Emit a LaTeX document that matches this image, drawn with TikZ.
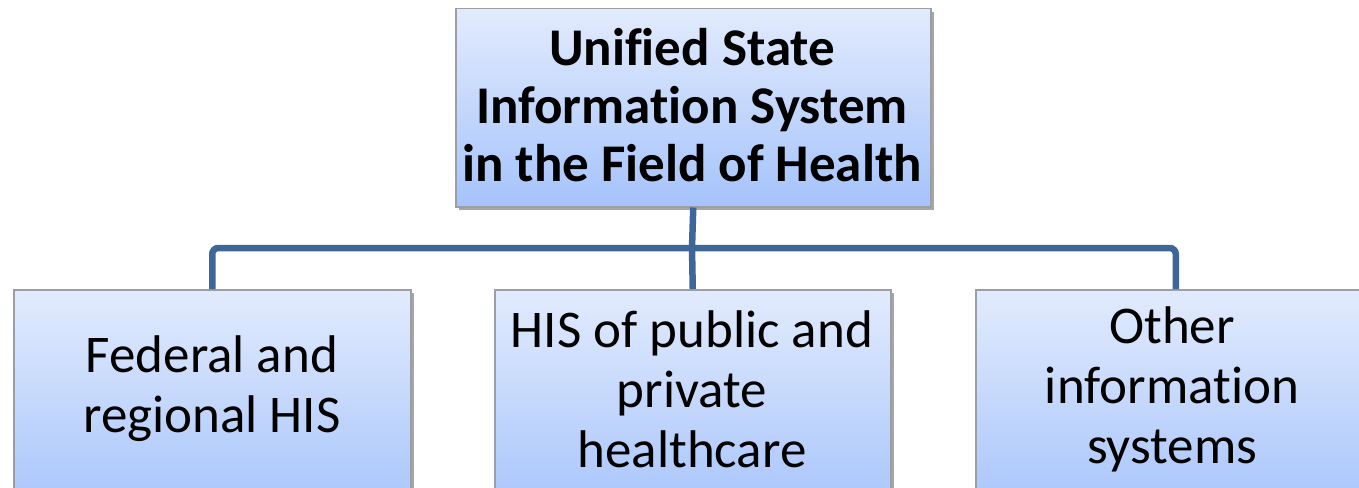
\documentclass[tikz,border=0pt]{standalone}
\usepackage{fontspec}
\setmainfont{Carlito}[Ligatures={NoCommon}]
\usetikzlibrary{shadows}
\definecolor{boxtop}{HTML}{E2EBFD}
\definecolor{boxbot}{HTML}{A5C3FB}
\definecolor{boxline}{HTML}{9A9EA6}
\definecolor{conn}{HTML}{3F6698}
\begin{document}
\begin{tikzpicture}[x=1pt,y=-1pt,
  box/.style={draw=boxline, line width=1.5pt, top color=boxtop, bottom color=boxbot,
    inner sep=0pt, anchor=north west,
    drop shadow={shadow xshift=3pt, shadow yshift=-3pt, fill=black, opacity=0.35}},
  label/.style={align=center, inner sep=0pt, font=\fontsize{53}{60}\selectfont},
  connector/.style={draw=conn, line width=6.5pt, rounded corners=6pt}]
\useasboundingbox (0,0) rectangle (1359,487);
\node[box, minimum width=475pt, minimum height=198pt] (top) at (455,8) {};
\begin{scope}
\clip (0,0) rectangle (1359,487);
\node[box, minimum width=397pt, minimum height=230pt] (b1) at (13,289) {};
\node[box, minimum width=396pt, minimum height=230pt] (b2) at (494,289) {};
\node[box, minimum width=400pt, minimum height=230pt] (b3) at (975,289) {};
\end{scope}
\node[label, font=\fontsize{53}{58}\selectfont\bfseries] (toptext) at (692,105)
  {Unified State\\Information System\\in the Field of Health};
\node[label] (t1) at (212,389) {Federal and\\regional HIS};
\node[label] (t2) at (692,389) {HIS of public and\\private\\healthcare};
\node[label] (t3) at (1172,389) {Other\\information\\systems};
\coordinate (j) at (692,248);
\draw[connector] (top.south) -- (j);
\draw[connector] (b1.north) |- (j) -| (b3.north);
\draw[connector] (j) -- (b2.north);
\end{tikzpicture}
\end{document}
